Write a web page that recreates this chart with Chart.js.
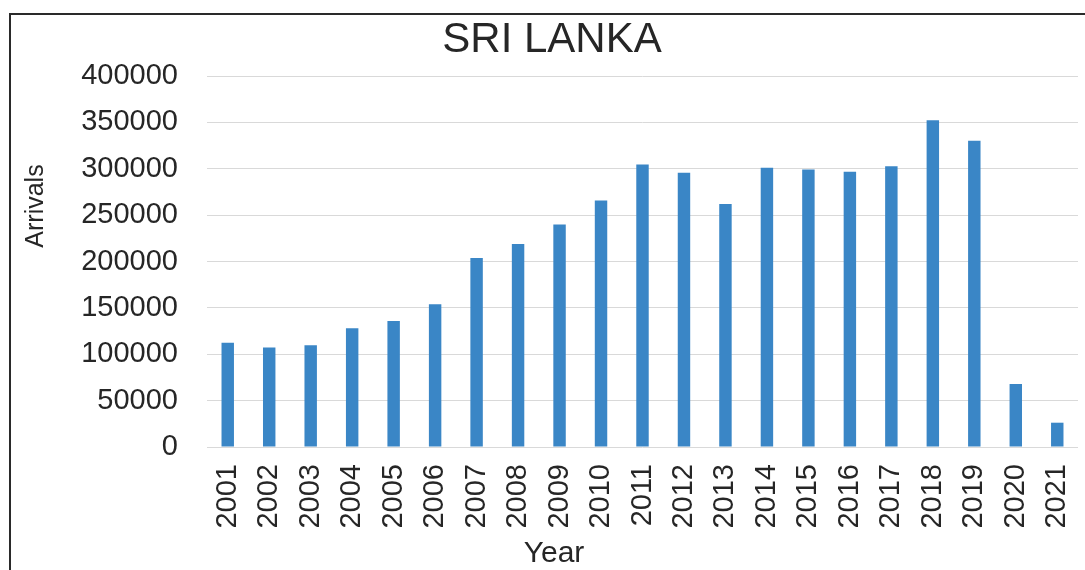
<!DOCTYPE html>
<html>
<head>
<meta charset="utf-8">
<script src="https://cdn.jsdelivr.net/npm/chart.js@4/dist/chart.umd.min.js"></script>
<style>
  html, body { margin: 0; padding: 0; background: #fff; }
  body { width: 1085px; height: 570px; position: relative; overflow: hidden; }
  #frame { position: absolute; left: 9px; top: 13px; right: -20px; bottom: -20px;
           border-left: 2px solid #2a2a2a; border-top: 2px solid #2a2a2a; }
  #wrap { position: absolute; left: 0; top: 0; width: 1085px; height: 570px; }
</style>
</head>
<body>
<div id="frame"></div>
<div id="wrap"><canvas id="c" width="1085" height="570"></canvas></div>
<script>
const chartTitle = "SRI LANKA";
const xAxisTitle = "Year";
const yAxisTitle = "Arrivals";
const years = ["2001","2002","2003","2004","2005","2006","2007","2008","2009","2010","2011",
               "2012","2013","2014","2015","2016","2017","2018","2019","2020","2021"];
const arrivals = [112400, 107400, 109600, 127900, 135800, 153800, 203700, 218800, 240000, 265800, 304700,
                  295600, 261900, 301000, 299200, 296700, 302800, 352400, 330100, 67900, 26200];
const yMin = 0;
const yMax = 400000;
const yStep = 50000;

const textColor = "#262626";
const fontFamily = "'Liberation Sans', Arial, sans-serif";

// Axis titles placed as in the reference (centred on the chart frame, not the plot)
const axisTitles = {
  id: "axisTitles",
  afterDraw(chart) {
    const ctx = chart.ctx;
    ctx.save();
    ctx.fillStyle = textColor;
    ctx.textAlign = "center";
    ctx.textBaseline = "middle";
    ctx.font = "30px " + fontFamily;
    ctx.fillText(xAxisTitle, 554, 554);
    ctx.translate(36, 206);
    ctx.rotate(-Math.PI / 2);
    ctx.font = "25px " + fontFamily;
    ctx.fillText(yAxisTitle, 0, 0);
    ctx.restore();
  }
};

new Chart(document.getElementById("c"), {
  type: "bar",
  data: {
    labels: years,
    datasets: [{
      label: yAxisTitle,
      data: arrivals,
      backgroundColor: "#3a86c6",
      borderWidth: 0,
      categoryPercentage: 1.0,
      barPercentage: 0.3
    }]
  },
  plugins: [axisTitles],
  options: {
    responsive: false,
    animation: false,
    devicePixelRatio: 1,
    layout: { padding: { left: 26, right: 7, top: 0, bottom: 0 } },
    plugins: {
      legend: { display: false },
      tooltip: { enabled: false },
      title: {
        display: true,
        text: chartTitle,
        color: textColor,
        font: { family: fontFamily, size: 42, weight: "normal", lineHeight: 1.0 },
        padding: { top: 19, bottom: 15 }
      }
    },
    scales: {
      x: {
        grid: { display: false, drawTicks: false },
        border: { display: false },
        ticks: {
          color: textColor,
          font: { family: fontFamily, size: 29 },
          maxRotation: 90, minRotation: 90,
          padding: 17,
          autoSkip: false
        },
        afterFit: (s) => { s.height = 123; s.paddingLeft = 0; s.paddingRight = 0; }
      },
      y: {
        min: yMin,
        max: yMax,
        grid: { color: "#d9d9d9", lineWidth: 1, drawTicks: false },
        border: { display: false },
        ticks: {
          stepSize: yStep,
          color: textColor,
          font: { family: fontFamily, size: 29 },
          padding: 29,
          callback: (v) => String(v)
        },
        afterFit: (s) => { s.width = 181; }
      }
    }
  }
});
</script>
</body>
</html>
